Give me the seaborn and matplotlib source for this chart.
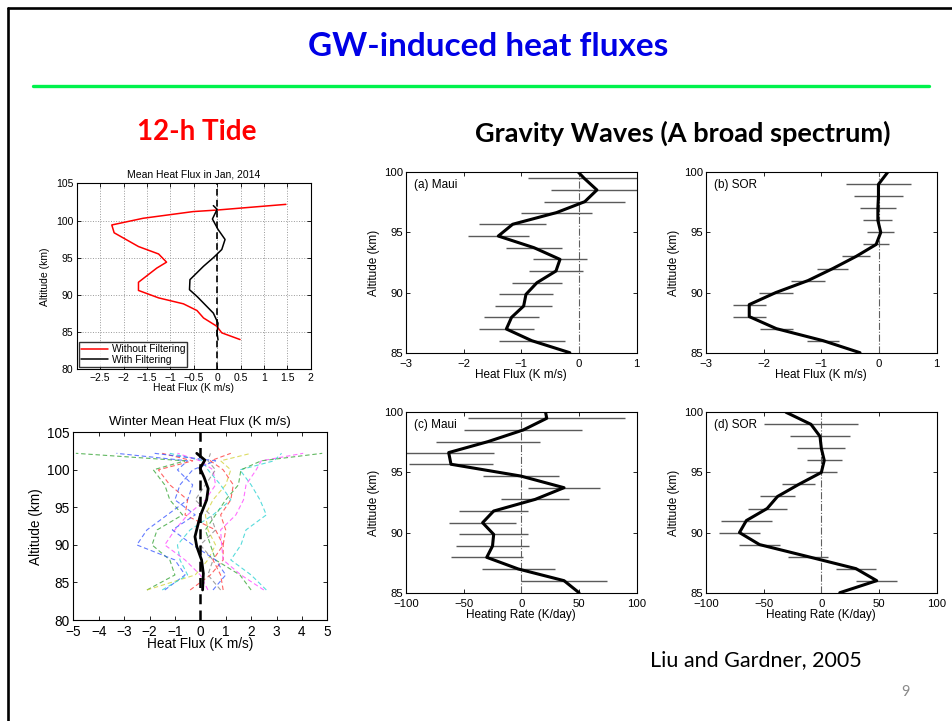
import numpy as np
import pandas as pd
import seaborn as sns
import matplotlib.pyplot as plt
from matplotlib.lines import Line2D

# ---------------- 12-h tide, mean heat flux in Jan 2014 ----------------
tide_red_alt = [102.17, 101.4, 101.2, 100.3, 99.4, 98.35, 96.5, 95.5, 94.4, 93.6,
                91.7, 90.6, 89.6, 88.8, 87.9, 86.9, 85.8, 84.9, 84.0]
tide_red_flux = [1.47, -0.01, -0.51, -1.58, -2.25, -2.2, -1.68, -1.25, -1.08, -1.29,
                 -1.68, -1.68, -1.25, -0.72, -0.43, -0.29, -0.01, 0.1, 0.49]
tide_blk_alt = [102.0, 101.5, 100.2, 98.8, 97.45, 96.1, 95.0, 93.85, 92.05, 90.7,
                89.8, 88.9, 87.55, 86.2, 84.85, 83.95]
tide_blk_flux = [-0.08, 0.0, -0.10, 0.02, 0.17, 0.1, -0.08, -0.29, -0.58, -0.59,
                 -0.43, -0.29, -0.08, 0.02, 0.0, 0.02]

# ---------------- winter mean heat flux, individual nights ----------------
winter_alt = [84, 86, 88, 90, 92, 94, 96, 98, 100, 101.2, 102.2]
winter_curves = {
    "g1": (-2.1, -1.0, -1.2, -1.9, -1.7, -0.7, -1.2, -1.4, -1.85, -0.6, -4.9),
    "b1": (-1.4, -0.6, -1.0, -2.5, -2.1, -1.3, -0.5, -0.3, -0.9, -0.5, -3.3),
    "r1": (-0.4, 0.4, 0.9, 0.9, 0.6, -0.6, -0.5, -1.2, -1.65, -0.3, -1.5),
    "c1": (2.6, 2.0, 1.2, 1.6, 1.8, 2.6, 2.35, 2.0, 1.56, 2.9, 3.2),
    "m1": (2.5, 1.6, 0.9, 0.84, 0.8, 1.4, 1.7, 1.8, 2.2, 2.4, 4.05),
    "y1": (-2.1, -0.2, 0.3, 0.6, 0.3, 0.2, 0.5, 1.0, 1.2, 0.8, 2.0),
    "g2": (2.0, 1.56, 0.6, 0.4, 0.2, 0.6, 1.0, 1.5, 1.6, 2.4, 4.8),
    "c2": (-1.5, -0.5, -0.8, -0.9, -0.4, 0.5, 1.2, 0.8, 0.3, 0.1, -1.2),
    "m2": (0.3, 0.0, -0.6, -1.4, -1.0, -0.5, 0.2, 0.6, 0.5, 0.0, -0.9),
    "k1": (0.8, 0.3, 0.5, 0.0, 0.6, 0.4, -0.2, 0.2, 0.6, 0.3, 0.4),
    "b2": (0.5, 1.0, 0.6, -0.3, -1.1, -0.2, -1.0, -0.8, -0.3, 0.6, -1.8),
    "r2": (0.9, 0.8, 0.5, 0.9, 1.0, 0.8, 1.2, 1.3, 0.9, 0.4, 1.2),
}
winter_colors = {"g": "#2ca02c", "b": "#3050ff", "r": "#ff3030", "c": "#20d0d0",
                 "m": "#ff40ff", "y": "#d0d030", "k": "#808080"}
winter_mean_alt = [84.0, 86.2, 88.0, 89.8, 91.1, 93.8, 96.0, 97.5, 99.0, 100.2, 101.3, 102.2]
winter_mean_flux = [0.09, 0.12, 0.05, -0.14, -0.21, -0.01, 0.25, 0.31, 0.15, -0.01, 0.18, -0.14]

# ---------------- gravity waves (Liu and Gardner, 2005) ----------------
maui_alt = [85.0, 86.0, 86.97, 87.94, 88.88, 89.85, 90.82, 91.79, 92.76, 93.73,
            94.70, 95.68, 96.65, 97.56, 98.53, 99.50, 100.0]
maui_flux = [-0.16, -0.82, -1.26, -1.17, -0.96, -0.92, -0.73, -0.40, -0.33, -0.78,
             -1.40, -1.15, -0.39, 0.10, 0.31, 0.09, -0.01]
maui_flux_err = [np.nan, 0.57, 0.48, 0.48, 0.49, 0.47, 0.44, 0.47, 0.46, 0.48,
                 0.53, 0.58, 0.62, 0.70, 0.80, 0.97, np.nan]
maui_heat = [50, 37, -2.6, -30, -25, -24, -33.6, -24, 12, 37,
             -0.5, -61, -63, -29, 1.6, 22, 21]
maui_heat_err = [np.nan, 37, 31.5, 31, 32, 30, 29, 30, 29.6, 31,
                 33, 36, 39, 45, 51, 68, np.nan]

sor_alt = [85, 86, 87, 88, 89, 90, 91, 92, 93, 94, 95, 96, 97, 98, 99, 100]
sor_flux = [-0.33, -0.97, -1.78, -2.25, -2.25, -1.79, -1.23, -0.80, -0.40, -0.05,
            0.03, -0.02, -0.02, -0.01, -0.01, 0.15]
sor_flux_err = [np.nan, 0.28, 0.29, 0.29, 0.29, 0.29, 0.29, 0.27, 0.25, 0.22,
                0.23, 0.25, 0.31, 0.42, 0.56, np.nan]
sor_heat = [16, 48, 30, -11.6, -53.6, -71, -65, -47, -38, -19.7,
            0, 2.5, 0, -1.2, -9, -30.6]
sor_heat_err = [np.nan, 17.6, 17.5, 17.6, 17.8, 17.6, 22, 17, 15, 14,
                13.7, 15, 20.7, 25.7, 41, np.nan]

# ---------------- style ----------------
sns.set_theme(style="ticks")
plt.rcParams.update({
    "font.family": ["Liberation Sans", "DejaVu Sans"],
    "xtick.direction": "in", "ytick.direction": "in",
    "xtick.top": True, "ytick.right": True,
    "xtick.major.size": 3, "ytick.major.size": 3,
    "xtick.major.width": 0.6, "ytick.major.width": 0.6,
    "xtick.major.pad": 3.5, "ytick.major.pad": 2.5,
    "axes.linewidth": 0.8, "axes.edgecolor": "black",
    "xtick.color": "black", "ytick.color": "black",
    "axes.labelcolor": "black", "text.color": "black",
    "axes.facecolor": "white", "figure.facecolor": "white",
})

fig = plt.figure(figsize=(9.52, 7.21), dpi=100)
W, H = 952.0, 721.0


def axes_px(left, top, right, bottom):
    return fig.add_axes([left / W, 1 - bottom / H, (right - left) / W, (bottom - top) / H])


# slide decoration
fig.add_artist(Line2D([8 / W, 8 / W], [0, 1 - 7.5 / H], color="black", lw=1.9, transform=fig.transFigure))
fig.add_artist(Line2D([8 / W, 1], [1 - 7.5 / H, 1 - 7.5 / H], color="black", lw=1.9, transform=fig.transFigure))
fig.add_artist(Line2D([33 / W, 929 / W], [1 - 86 / H, 1 - 86 / H], color="#00f24c", lw=2.4,
                      transform=fig.transFigure))
slide_font = ["Lato", "DejaVu Sans"]
fig.text(488 / W, 1 - 46 / H, "GW-induced heat fluxes", color="#0000e6", fontsize=24,
         fontweight="bold", family=slide_font, ha="center", va="center")
fig.text(197 / W, 1 - 132 / H, "12-h Tide", color="#ff0000", fontsize=20,
         fontweight="bold", family=slide_font, ha="center", va="center")
fig.text(683 / W, 1 - 133 / H, "Gravity Waves (A broad spectrum)", color="black", fontsize=19.5,
         fontweight="bold", family=slide_font, ha="center", va="center")
fig.text(756 / W, 1 - 660 / H, "Liu and Gardner, 2005", color="black", fontsize=15.5,
         family=slide_font, ha="center", va="center")
fig.text(905 / W, 1 - 692 / H, "9", color="#8a8a8a", fontsize=10.5,
         family=slide_font, ha="center", va="center")

# ---------------- panel: mean heat flux in Jan 2014 ----------------
ax1 = axes_px(76.7, 183.3, 310.7, 369.3)
sns.lineplot(x=tide_red_flux, y=tide_red_alt, orient="y", color="red", lw=1.1,
             label="Without Filtering", ax=ax1)
sns.lineplot(x=tide_blk_flux, y=tide_blk_alt, orient="y", color="black", lw=1.1,
             label="With Filtering", ax=ax1)
ax1.axvline(0, color="black", ls=(0, (4, 2.5)), lw=1.2, zorder=1)
ax1.set_xlim(-3, 2)
ax1.set_ylim(80, 105)
ax1.set_xticks([-2.5, -2, -1.5, -1, -0.5, 0, 0.5, 1, 1.5, 2])
ax1.set_xticklabels(["\u22122.5", "\u22122", "\u22121.5", "\u22121", "\u22120.5", "0", "0.5", "1", "1.5", "2"])
ax1.set_yticks([80, 85, 90, 95, 100, 105])
ax1.grid(True, ls=":", color="#999999", lw=0.7)
ax1.tick_params(labelsize=7.5, pad=2.5)
ax1.set_title("Mean Heat Flux in Jan, 2014", fontsize=7.5, pad=4)
ax1.set_xlabel("Heat Flux (K m/s)", fontsize=7.5, labelpad=0)
ax1.set_ylabel("Altitude (km)", fontsize=7.5, labelpad=4)
leg = ax1.legend(loc="lower left", fontsize=7.3, frameon=True, fancybox=False,
                 edgecolor="black", borderpad=0.2, handlelength=2.6, handletextpad=0.4,
                 labelspacing=0.05, borderaxespad=0.25)
leg.get_frame().set_linewidth(1.0)

# ---------------- panel: winter mean heat flux ----------------
ax2 = axes_px(73.3, 432.3, 327.3, 620.0)
for key, vals in winter_curves.items():
    sns.lineplot(x=list(vals), y=winter_alt, orient="y", color=winter_colors[key[0]],
                 lw=0.8, alpha=0.75, ls=(0, (4, 2.5)), ax=ax2)
ax2.axvline(0, color="black", ls=(0, (4, 2.5)), lw=1.8, zorder=3)
sns.lineplot(x=winter_mean_flux, y=winter_mean_alt, orient="y", color="black", lw=2.0,
             ax=ax2, zorder=4)
ax2.set_xlim(-5, 5)
ax2.set_ylim(80, 105)
ax2.set_xticks(range(-5, 6))
ax2.set_xticklabels([f"{v}".replace("-", "\u2212") for v in range(-5, 6)])
ax2.set_yticks([80, 85, 90, 95, 100, 105])
ax2.tick_params(axis="x", labelsize=9.8, pad=3.5)
ax2.tick_params(axis="y", labelsize=9.8, pad=2.5)
ax2.set_title("Winter Mean Heat Flux (K m/s)", fontsize=9.5, pad=5)
ax2.set_xlabel("Heat Flux (K m/s)", fontsize=9.8, labelpad=-1)
ax2.set_ylabel("Altitude (km)", fontsize=9.8, labelpad=3)


# ---------------- gravity wave panels ----------------
def gw_panel(ax, alt, val, err, xlim, xticks, xlabel, tag):
    alt = np.asarray(alt, float)
    val = np.asarray(val, float)
    err = np.asarray(err, float)
    ok = ~np.isnan(err)
    ax.errorbar(val[ok], alt[ok], xerr=err[ok], fmt="none", ecolor="#5a5a5a",
                elinewidth=1.0, capsize=0, zorder=2)
    ax.axvline(0, color="#606060", ls="-.", lw=0.8, zorder=1)
    sns.lineplot(x=val, y=alt, orient="y", color="black", lw=2.2, ax=ax, zorder=3)
    ax.set_xlim(*xlim)
    ax.set_ylim(85, 100)
    ax.set_xticks(xticks)
    ax.set_xticklabels([f"{v}".replace("-", "\u2212") for v in xticks])
    ax.set_yticks([85, 90, 95, 100])
    ax.tick_params(axis="x", labelsize=8.2, pad=4.2)
    ax.tick_params(axis="y", labelsize=8.2, pad=2)
    ax.set_xlabel(xlabel, fontsize=8.5, labelpad=0.3)
    ax.set_ylabel("Altitude (km)", fontsize=8.5, labelpad=3)
    ax.text(0.035, 0.93, tag, transform=ax.transAxes, fontsize=8.5, ha="left", va="center")


axa = axes_px(406, 172.3, 636.7, 352.7)
gw_panel(axa, maui_alt, maui_flux, maui_flux_err, (-3, 1), [-3, -2, -1, 0, 1],
         "Heat Flux (K m/s)", "(a) Maui")
axb = axes_px(706, 172.3, 936.7, 352.7)
gw_panel(axb, sor_alt, sor_flux, sor_flux_err, (-3, 1), [-3, -2, -1, 0, 1],
         "Heat Flux (K m/s)", "(b) SOR")
axc = axes_px(406, 412.3, 636.7, 592.7)
gw_panel(axc, maui_alt, maui_heat, maui_heat_err, (-100, 100), [-100, -50, 0, 50, 100],
         "Heating Rate (K/day)", "(c) Maui")
axd = axes_px(706, 412.3, 936.7, 592.7)
gw_panel(axd, sor_alt, sor_heat, sor_heat_err, (-100, 100), [-100, -50, 0, 50, 100],
         "Heating Rate (K/day)", "(d) SOR")

for a in (ax2, axa, axb, axc, axd):
    leg2 = a.get_legend()
    if leg2 is not None:
        leg2.remove()

fig.savefig("out.png", dpi=100)
